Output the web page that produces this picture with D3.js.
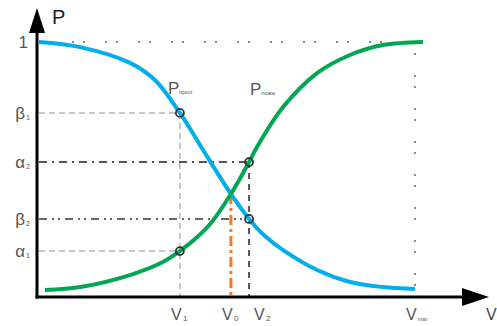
<!DOCTYPE html>
<html><head><meta charset="utf-8">
<script src="https://cdn.jsdelivr.net/npm/d3@7"></script>
<style>html,body{margin:0;padding:0;background:#fff}</style>
</head><body>
<svg id="c" width="497" height="326"></svg>
<script>
// ---- data ----
const missV = [0.5, 11.4, 24.6, 31.2, 37.8, 44.4, 51.3, 56.1, 60.3, 65.1, 74.1, 82.8, 91.5, 100];
const missP = [1.0, 0.980, 0.918, 0.851, 0.722, 0.565, 0.404, 0.306, 0.239, 0.184, 0.106, 0.059, 0.039, 0.031];
const falseV = [2.1, 11.4, 24.6, 33.3, 37.8, 41.8, 45.8, 51.3, 56.1, 58.2, 65.1, 74.1, 82.8, 91.5, 102.1];
const falseP = [0.027, 0.039, 0.086, 0.137, 0.180, 0.227, 0.286, 0.404, 0.529, 0.588, 0.745, 0.878, 0.949, 0.988, 1.0];
const yTickLabels = ["1", "β", "α", "β", "α"];
const yTickSubs = ["", "1", "2", "2", "1"];
const yTickValues = [1, 0.722, 0.529, 0.306, 0.180];
const xTickLabels = ["V", "V", "V", "V"];
const xTickSubs = ["1", "0", "2", "max"];
const xTickValues = [37.8, 51.3, 56.1, 100];
const markers = [[37.8, 0.722], [37.8, 0.180], [56.1, 0.529], [56.1, 0.306]];
const curveNames = ["проп", "ложн"];

// ---- layout ----
const svg = d3.select("#c");
const x = d3.scaleLinear().domain([0, 100]).range([37, 415]);
const y = d3.scaleLinear().domain([0, 1]).range([297, 42]);
const x0 = x(0), yb = y(0);
const gray = "#555";
const ff = "Liberation Sans, Arial, sans-serif";

// guide lines
function hline(v, xEnd, dash, color, w) {
  svg.append("line").attr("x1", x0 + 2).attr("x2", x(xEnd)).attr("y1", y(v)).attr("y2", y(v))
    .attr("stroke", color).attr("stroke-width", w).attr("stroke-dasharray", dash);
}
function vline(v, pTop, dash, color, w) {
  svg.append("line").attr("x1", x(v)).attr("x2", x(v)).attr("y1", y(pTop)).attr("y2", yb - 1)
    .attr("stroke", color).attr("stroke-width", w).attr("stroke-dasharray", dash);
}
hline(yTickValues[0], 103, "2,9,2,20", "#888", 2);
vline(xTickValues[3], yTickValues[0], "2,9,2,20", "#888", 2);
hline(yTickValues[1], xTickValues[0], "6,4", "#b5b5b5", 1.5);
vline(xTickValues[0], yTickValues[1], "6,4", "#b5b5b5", 1.5);
hline(yTickValues[4], xTickValues[0], "6,4", "#b5b5b5", 1.5);
hline(yTickValues[2], xTickValues[2], "8,5,2,5", "#555", 2);
vline(xTickValues[2], yTickValues[2], "6,5", "#555", 2);
hline(yTickValues[3], xTickValues[2], "8,5,2,4,2,5", "#666", 2);
vline(xTickValues[1], missP[6], "10,4,3,4", "#F47B20", 3);

// curves
const line = d3.line().x(d => x(d[0])).y(d => y(d[1])).curve(d3.curveCatmullRom.alpha(0.5));
svg.append("path").attr("d", line(d3.zip(missV, missP))).attr("fill", "none")
  .attr("stroke", "#00AEEF").attr("stroke-width", 4);
svg.append("path").attr("d", line(d3.zip(falseV, falseP))).attr("fill", "none")
  .attr("stroke", "#00A651").attr("stroke-width", 4);

// markers
svg.selectAll("circle.m").data(markers).join("circle").attr("class", "m")
  .attr("cx", d => x(d[0])).attr("cy", d => y(d[1])).attr("r", 4)
  .attr("fill", "none").attr("stroke", "#333").attr("stroke-width", 1.8);

// axes
svg.append("line").attr("x1", x0).attr("x2", x0).attr("y1", yb + 1.5).attr("y2", 30)
  .attr("stroke", "#000").attr("stroke-width", 3);
svg.append("path").attr("d", `M${x0},8 L${x0 - 8},33 L${x0 + 8},33 Z`).attr("fill", "#000");
svg.append("line").attr("x1", x0 - 1.5).attr("x2", 465).attr("y1", yb).attr("y2", yb)
  .attr("stroke", "#000").attr("stroke-width", 3);
svg.append("path").attr("d", `M489,${yb} L462,${yb - 9} L462,${yb + 9} Z`).attr("fill", "#000");

// axis titles
svg.append("text").attr("x", 52).attr("y", 24).attr("font-family", ff)
  .attr("font-size", 20).attr("fill", "#222").text("P");
svg.append("text").attr("x", 486).attr("y", 320).attr("font-family", ff)
  .attr("font-size", 16).attr("fill", "#444").text("V");

// y tick labels
yTickLabels.forEach((lab, i) => {
  svg.append("text").attr("x", i === 0 ? 28 : 25).attr("y", y(yTickValues[i]) + 6)
    .attr("text-anchor", "end").attr("font-family", ff).attr("font-size", 17).attr("fill", gray).text(lab);
  if (yTickSubs[i]) svg.append("text").attr("x", 26).attr("y", y(yTickValues[i]) + 7)
    .attr("font-family", ff).attr("font-size", 7).attr("fill", gray).text(yTickSubs[i]);
});

// x tick labels
const xOff = [0, 0, 14, 0];
xTickLabels.forEach((lab, i) => {
  const cx = x(xTickValues[i]) + xOff[i];
  svg.append("text").attr("x", cx - 9).attr("y", 320).attr("font-family", ff)
    .attr("font-size", 16).attr("fill", gray).text(lab);
  svg.append("text").attr("x", cx + 3).attr("y", 321).attr("font-family", ff)
    .attr("font-size", i === 3 ? 5 : 8).attr("fill", gray).text(xTickSubs[i]);
});

// curve labels
[[168, 94], [250, 95]].forEach((p, i) => {
  svg.append("text").attr("x", p[0]).attr("y", p[1]).attr("font-family", ff)
    .attr("font-size", 17).attr("fill", gray).text("P");
  svg.append("text").attr("x", p[0] + 11).attr("y", p[1]).attr("font-family", ff)
    .attr("font-size", 6).attr("fill", gray).text(curveNames[i]);
});
</script>
</body></html>
